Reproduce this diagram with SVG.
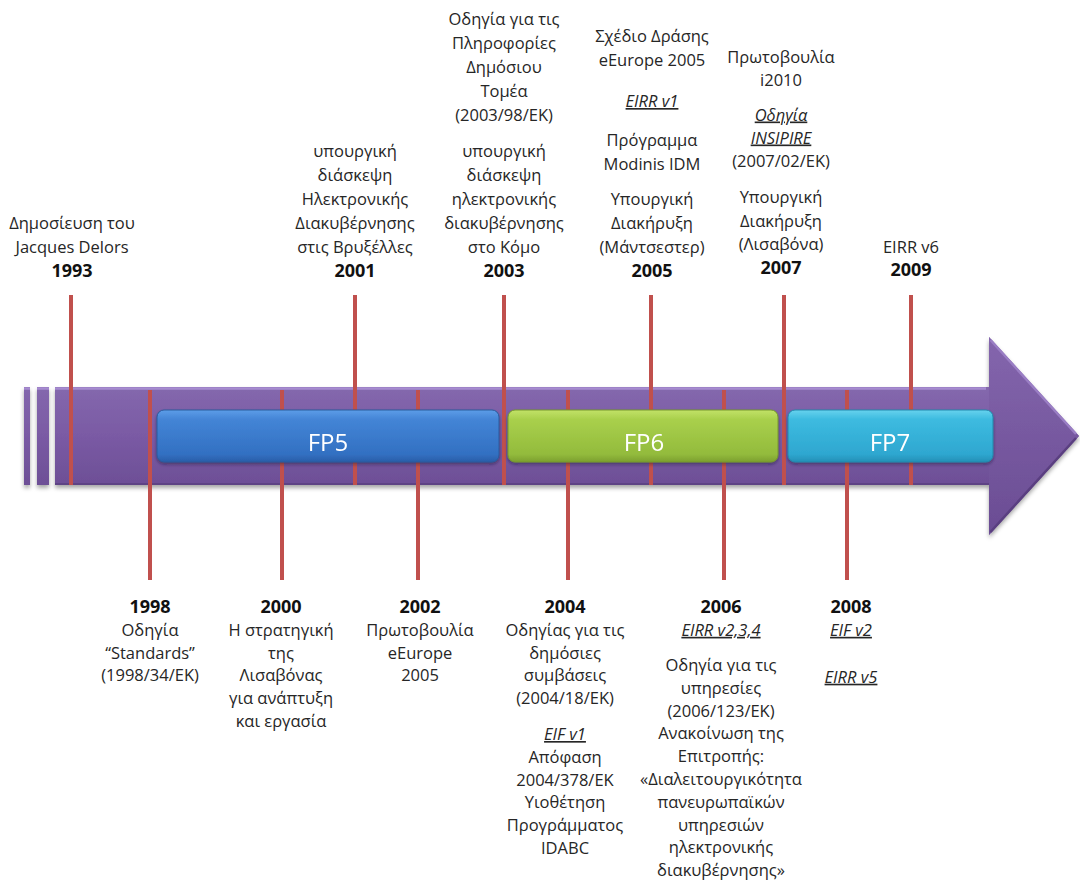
<svg xmlns="http://www.w3.org/2000/svg" width="1080" height="881" viewBox="0 0 1080 881">
  <style>
    text { font-family: "Open Sans", "Noto Sans", "DejaVu Sans", sans-serif; fill: #262626; text-anchor: middle; }
    .t { font-size: 16.5px; }
    .y { font-size: 18px; font-weight: bold; fill: #111; }
    .u { font-style: italic; text-decoration: underline; }
    .fp { font-size: 24px; fill: #ffffff; }
    .tick { stroke: #c0504d; stroke-width: 4; }
  </style>
  <defs>
    <filter id="shadow" x="-5%" y="-20%" width="110%" height="150%">
      <feDropShadow dx="0" dy="3" stdDeviation="2" flood-color="#000" flood-opacity="0.35"/>
    </filter>
    <filter id="barShadow" x="-5%" y="-20%" width="110%" height="160%">
      <feDropShadow dx="0" dy="2" stdDeviation="1.5" flood-color="#1e1230" flood-opacity="0.45"/>
    </filter>
    <linearGradient id="band" x1="0" y1="387" x2="0" y2="485" gradientUnits="userSpaceOnUse">
      <stop offset="0" stop-color="#8468ad"/>
      <stop offset="0.5" stop-color="#7a5aa4"/>
      <stop offset="1" stop-color="#6d4f96"/>
    </linearGradient>
    <linearGradient id="head" x1="0" y1="0" x2="0" y2="1">
      <stop offset="0" stop-color="#8466ad"/>
      <stop offset="1" stop-color="#6a4c93"/>
    </linearGradient>
    <linearGradient id="gBlue" x1="0" y1="0" x2="0" y2="1">
      <stop offset="0" stop-color="#5d9de8"/>
      <stop offset="0.18" stop-color="#4485d6"/>
      <stop offset="0.85" stop-color="#3270c2"/>
      <stop offset="1" stop-color="#2a5ea8"/>
    </linearGradient>
    <linearGradient id="gGreen" x1="0" y1="0" x2="0" y2="1">
      <stop offset="0" stop-color="#c2e268"/>
      <stop offset="0.18" stop-color="#a9d04c"/>
      <stop offset="0.85" stop-color="#93bb3c"/>
      <stop offset="1" stop-color="#7c9f30"/>
    </linearGradient>
    <linearGradient id="gCyan" x1="0" y1="0" x2="0" y2="1">
      <stop offset="0" stop-color="#66d2ee"/>
      <stop offset="0.18" stop-color="#3dbbe0"/>
      <stop offset="0.85" stop-color="#2ea7d0"/>
      <stop offset="1" stop-color="#258fb6"/>
    </linearGradient>
  </defs>

  <!-- timeline arrow -->
  <g id="timeline" filter="url(#shadow)">
    <rect x="24" y="387" width="6" height="98" fill="url(#band)"/>
    <rect x="37" y="387" width="12" height="98" fill="url(#band)"/>
    <path d="M55,387 H989 V337 L1079,436 L989,535 V485 H55 Z" fill="url(#band)"/>
    <path d="M989,337 L1079,436 L989,535 Z" fill="url(#head)"/>
  </g>
  <g id="timeline-bevel" fill="none">
    <path d="M55,388.5 H986" stroke="#a68bd0" stroke-width="2.5"/>
    <path d="M24,388.5 H30 M37,388.5 H49" stroke="#a68bd0" stroke-width="2.5"/>
    <path d="M990.5,340 L1076,434" stroke="#9a7ec4" stroke-width="2.5"/>
    <path d="M1076,438 L990.5,532" stroke="#5a3f80" stroke-width="2.5"/>
    <path d="M55,484 H989" stroke="#5e4385" stroke-width="2"/>
  </g>

  <!-- year ticks -->
  <g id="connectors" class="tick">
    <line x1="71" y1="295" x2="71" y2="485"/>
    <line x1="355" y1="295" x2="355" y2="485"/>
    <line x1="504" y1="295" x2="504" y2="485"/>
    <line x1="651" y1="295" x2="651" y2="485"/>
    <line x1="784" y1="295" x2="784" y2="485"/>
    <line x1="911" y1="295" x2="911" y2="485"/>
    <line x1="150" y1="390" x2="150" y2="580"/>
    <line x1="282" y1="390" x2="282" y2="580"/>
    <line x1="418" y1="390" x2="418" y2="580"/>
    <line x1="568" y1="390" x2="568" y2="580"/>
    <line x1="724" y1="390" x2="724" y2="580"/>
    <line x1="847" y1="390" x2="847" y2="580"/>
  </g>

  <!-- framework programme bars -->
  <g id="fp5" filter="url(#barShadow)">
    <rect x="157" y="410" width="342" height="52" rx="7" fill="url(#gBlue)" stroke="#2a5a9c" stroke-width="1"/>
    <text class="fp" x="328" y="451">FP5</text>
  </g>
  <g id="fp6" filter="url(#barShadow)">
    <rect x="508" y="410" width="270" height="52" rx="7" fill="url(#gGreen)" stroke="#76982c" stroke-width="1"/>
    <text class="fp" x="644" y="451">FP6</text>
  </g>
  <g id="fp7" filter="url(#barShadow)">
    <rect x="788" y="410" width="205" height="52" rx="7" fill="url(#gCyan)" stroke="#2388ad" stroke-width="1"/>
    <text class="fp" x="890" y="451">FP7</text>
  </g>

  <!-- events above the line -->
  <g id="y1993">
    <text class="t" x="72" y="228.5">Δημοσίευση του</text>
    <text class="t" x="72" y="252.5">Jacques Delors</text>
    <text class="y" x="72" y="276.5">1993</text>
  </g>
  <g id="y2001">
    <text class="t" x="355" y="156.5">υπουργική</text>
    <text class="t" x="355" y="180.5">διάσκεψη</text>
    <text class="t" x="355" y="204.5">Ηλεκτρονικής</text>
    <text class="t" x="355" y="228.5">Διακυβέρνησης</text>
    <text class="t" x="355" y="252.5">στις Βρυξέλλες</text>
    <text class="y" x="355" y="276.5">2001</text>
  </g>
  <g id="y2003">
    <text class="t" x="504" y="24.5">Οδηγία για τις</text>
    <text class="t" x="504" y="48.5">Πληροφορίες</text>
    <text class="t" x="504" y="72.5">Δημόσιου</text>
    <text class="t" x="504" y="96.5">Τομέα</text>
    <text class="t" x="504" y="120.5">(2003/98/ΕΚ)</text>
    <text class="t" x="504" y="156.5">υπουργική</text>
    <text class="t" x="504" y="180.5">διάσκεψη</text>
    <text class="t" x="504" y="204.5">ηλεκτρονικής</text>
    <text class="t" x="504" y="228.5">διακυβέρνησης</text>
    <text class="t" x="504" y="252.5">στο Κόμο</text>
    <text class="y" x="504" y="276.5">2003</text>
  </g>
  <g id="y2005">
    <text class="t" x="652" y="42">Σχέδιο Δράσης</text>
    <text class="t" x="652" y="66">eEurope 2005</text>
    <text class="t u" x="652" y="107">EIRR v1</text>
    <text class="t" x="652" y="146">Πρόγραμμα</text>
    <text class="t" x="652" y="169.5">Modinis IDM</text>
    <text class="t" x="652" y="204.5">Υπουργική</text>
    <text class="t" x="652" y="228.5">Διακήρυξη</text>
    <text class="t" x="652" y="252.5">(Μάντσεστερ)</text>
    <text class="y" x="652" y="276.5">2005</text>
  </g>
  <g id="y2007">
    <text class="t" x="781" y="62.5">Πρωτοβουλία</text>
    <text class="t" x="781" y="85.5">i2010</text>
    <text class="t u" x="781" y="120.5">Οδηγία</text>
    <text class="t u" x="781" y="143.5">INSIPIRE</text>
    <text class="t" x="781" y="167">(2007/02/ΕΚ)</text>
    <text class="t" x="781" y="202.5">Υπουργική</text>
    <text class="t" x="781" y="226.5">Διακήρυξη</text>
    <text class="t" x="781" y="250">(Λισαβόνα)</text>
    <text class="y" x="781" y="273.5">2007</text>
  </g>
  <g id="y2009">
    <text class="t" x="911" y="252.5">EIRR v6</text>
    <text class="y" x="911" y="275.5">2009</text>
  </g>

  <!-- events below the line -->
  <g id="y1998">
    <text class="y" x="150" y="613">1998</text>
    <text class="t" x="150" y="635.8">Οδηγία</text>
    <text class="t" x="150" y="658.6">“Standards”</text>
    <text class="t" x="150" y="681.4">(1998/34/ΕΚ)</text>
  </g>
  <g id="y2000">
    <text class="y" x="281" y="613">2000</text>
    <text class="t" x="281" y="635.8">Η στρατηγική</text>
    <text class="t" x="281" y="658.6">της</text>
    <text class="t" x="281" y="681.4">Λισαβόνας</text>
    <text class="t" x="281" y="704.2">για ανάπτυξη</text>
    <text class="t" x="281" y="727">και εργασία</text>
  </g>
  <g id="y2002">
    <text class="y" x="420" y="613">2002</text>
    <text class="t" x="420" y="635.8">Πρωτοβουλία</text>
    <text class="t" x="420" y="658.6">eEurope</text>
    <text class="t" x="420" y="681.4">2005</text>
  </g>
  <g id="y2004">
    <text class="y" x="565" y="613">2004</text>
    <text class="t" x="565" y="635.8">Οδηγίας για τις</text>
    <text class="t" x="565" y="658.6">δημόσιες</text>
    <text class="t" x="565" y="681.4">συμβάσεις</text>
    <text class="t" x="565" y="704.2">(2004/18/ΕΚ)</text>
    <text class="t u" x="565" y="740">EIF v1</text>
    <text class="t" x="565" y="762.8">Απόφαση</text>
    <text class="t" x="565" y="785.6">2004/378/ΕΚ</text>
    <text class="t" x="565" y="808.4">Υιοθέτηση</text>
    <text class="t" x="565" y="831.2">Προγράμματος</text>
    <text class="t" x="565" y="854">IDABC</text>
  </g>
  <g id="y2006">
    <text class="y" x="721" y="613">2006</text>
    <text class="t u" x="721" y="635.8">EIRR v2,3,4</text>
    <text class="t" x="721" y="671">Οδηγία για τις</text>
    <text class="t" x="721" y="693.8">υπηρεσίες</text>
    <text class="t" x="721" y="716.6">(2006/123/ΕΚ)</text>
    <text class="t" x="721" y="739.4">Ανακοίνωση της</text>
    <text class="t" x="721" y="762.2">Επιτροπής:</text>
    <text class="t" x="721" y="785">«Διαλειτουργικότητα</text>
    <text class="t" x="721" y="807.8">πανευρωπαϊκών</text>
    <text class="t" x="721" y="830.6">υπηρεσιών</text>
    <text class="t" x="721" y="853.4">ηλεκτρονικής</text>
    <text class="t" x="721" y="876.2">διακυβέρνησης»</text>
  </g>
  <g id="y2008">
    <text class="y" x="851" y="613">2008</text>
    <text class="t u" x="851" y="635.8">EIF v2</text>
    <text class="t u" x="851" y="682.7">EIRR v5</text>
  </g>
</svg>
